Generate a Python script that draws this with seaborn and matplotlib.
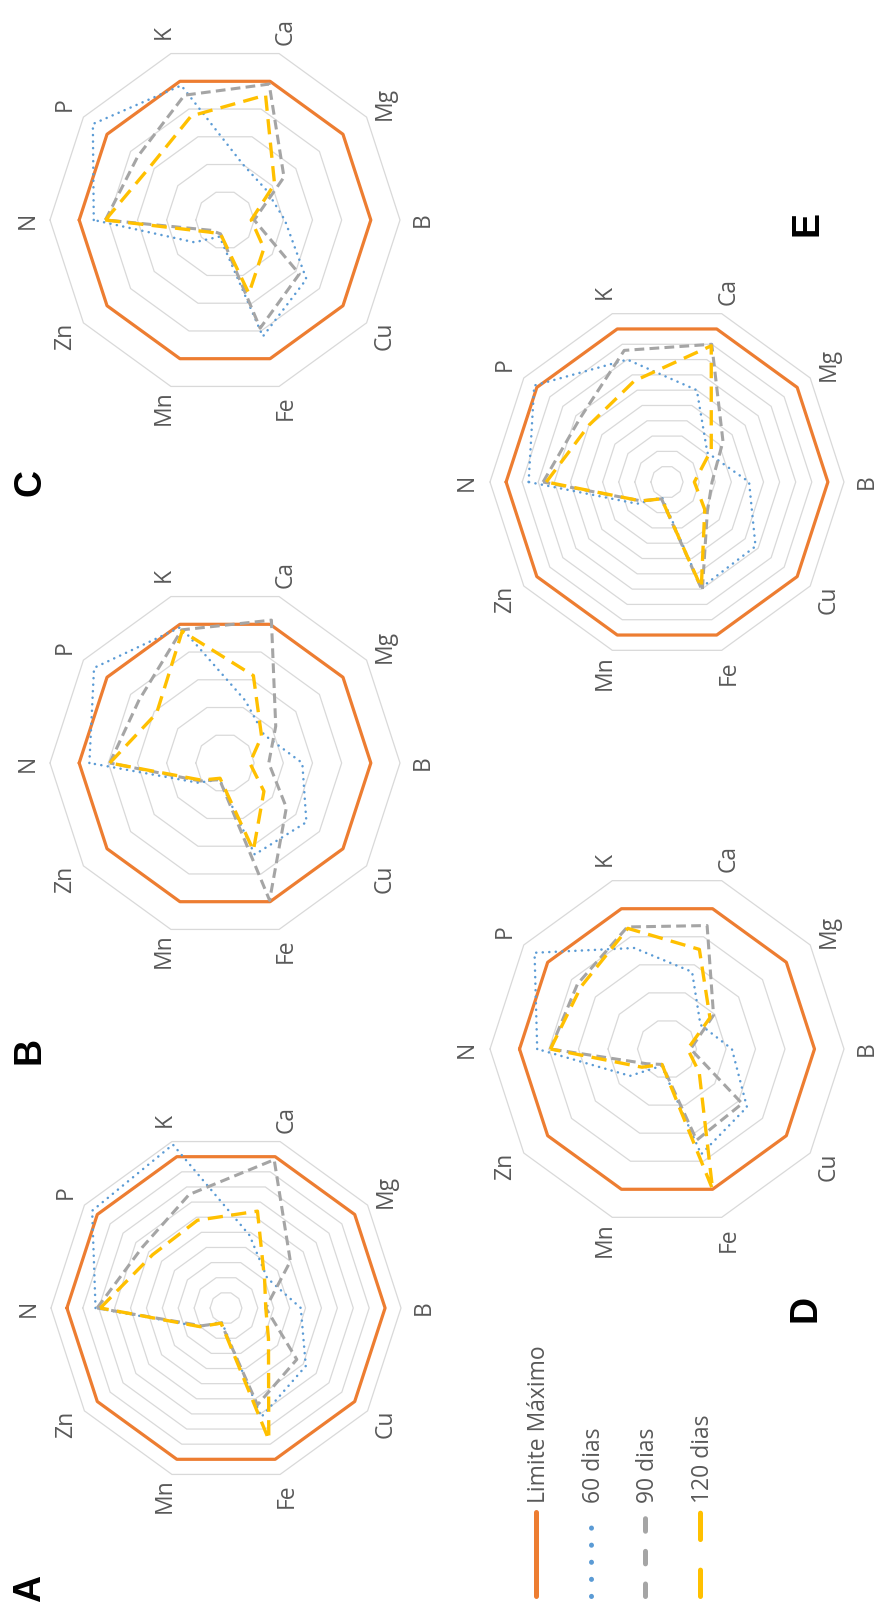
import numpy as np
import matplotlib
matplotlib.use("Agg")
import matplotlib.pyplot as plt
import seaborn as sns

# nutrient axes, clockwise starting at N
nutrientes = ["N", "P", "K", "Ca", "Mg", "B", "Cu", "Fe", "Mn", "Zn"]
series = ["Limite Máximo", "60 dias", "90 dias", "120 dias"]
limite = [100, 100, 100, 100, 100, 100, 100, 100, 100, 100]

# panel A
a_60 = [82, 104, 108, 48, 32, 47, 62, 72, 9, 20]
a_90 = [81, 65, 75, 98, 50, 25, 55, 64, 10, 19]
a_120 = [79, 57, 58, 64, 30, 25, 33, 87, 10, 20]
# panel B
b_60 = [93, 111, 98, 45, 33, 53, 69, 66, 12, 23]
b_90 = [79, 73, 96, 103, 43, 30, 52, 99, 12, 21]
b_120 = [79, 58, 95, 63, 31, 17, 33, 63, 11, 20]
# panel C
c_60 = [90, 112, 97, 40, 35, 41, 69, 84, 12, 26]
c_90 = [82, 74, 90, 98, 50, 20, 63, 78, 10, 12]
c_120 = [82, 63, 75, 90, 42, 18, 33, 53, 10, 14]
# panel D
d_60 = [88, 111, 72, 55, 28, 44, 67, 75, 12, 31]
d_90 = [79, 75, 87, 88, 39, 16, 63, 65, 11, 17]
d_120 = [79, 72, 86, 71, 36, 14, 27, 100, 11, 21]
# panel E
e_60 = [86, 102, 80, 60, 31, 51, 68, 69, 10, 23]
e_90 = [77, 67, 86, 90, 43, 28, 31, 71, 11, 20]
e_120 = [75, 60, 66, 89, 34, 17, 29, 69, 11, 20]

# radial axis max and step of each panel
escala = {"A": (110, 10), "B": (120, 20), "C": (120, 20), "D": (120, 20), "E": (110, 10)}

sns.set_theme(style="white")
plt.rcParams["font.family"] = ["Open Sans", "DejaVu Sans"]
plt.rcParams["lines.scale_dashes"] = False

W, H = 877, 1610
fig = plt.figure(figsize=(W / 100, H / 100), dpi=100)
fig.patch.set_facecolor("white")

estilos = {
    "Limite Máximo": dict(color="#ED7D31", linewidth=2.3, linestyle="-"),
    "60 dias": dict(color="#5B9BD5", linewidth=1.8, linestyle=(0, (0.1, 4.6)), dash_capstyle="round"),
    "90 dias": dict(color="#A5A5A5", linewidth=2.2, linestyle=(0, (7, 3.8))),
    "120 dias": dict(color="#FFC000", linewidth=2.4, linestyle=(0, (11, 6))),
}
TXT = "#595959"


def radar(ax, dados, rmax, step):
    ax.set_theta_offset(np.pi)
    ax.set_theta_direction(-1)
    ang = np.linspace(0, 2 * np.pi, len(nutrientes), endpoint=False)
    fechado = np.append(ang, 2 * np.pi)
    for lvl in np.arange(step, rmax + step / 2, step):
        ax.plot(fechado, [lvl] * len(fechado), color="#D9D9D9", linewidth=0.9,
                zorder=1, clip_on=False)
    for z, (nome, vals) in enumerate(zip(series, dados)):
        r = list(vals) + [vals[0]]
        sns.lineplot(x=fechado, y=r, ax=ax, sort=False, estimator=None,
                     zorder=2 + z, clip_on=False, **estilos[nome])
    ax.set_ylim(0, rmax)
    ax.set_xticks([])
    ax.set_yticks([])
    ax.grid(False)
    ax.spines["polar"].set_visible(False)
    ax.patch.set_visible(False)
    ax.set_xlabel("")
    ax.set_ylabel("")
    for a, lab in zip(ang, nutrientes):
        ax.text(a, rmax * 1.13, lab, rotation=90, ha="center", va="center",
                fontsize=16.5, color=TXT)


paineis = [
    ("A", [limite, a_60, a_90, a_120], (226, 1308), 175, (30, 1588)),
    ("B", [limite, b_60, b_90, b_120], (225, 763), 175, (29, 1050)),
    ("C", [limite, c_60, c_90, c_120], (225, 220), 175, (30, 482)),
    ("D", [limite, d_60, d_90, d_120], (667, 1049), 177, (805, 1308)),
    ("E", [limite, e_60, e_90, e_120], (667, 482), 177, (807, 223)),
]

for letra, dados, (cx, cy), R, (lx, ly) in paineis:
    ax = fig.add_axes([(cx - R) / W, (H - cy - R) / H, 2 * R / W, 2 * R / H],
                      projection="polar")
    rmax, step = escala[letra]
    radar(ax, dados, rmax, step)
    fig.text(lx / W, 1 - ly / H, letra, rotation=90, ha="center", va="center",
             fontsize=27, fontweight="bold", family=["Liberation Sans", "DejaVu Sans"],
             color="black")

# legend, drawn rotated like the rest of the figure
lax = fig.add_axes([0, 0, 1, 1])
lax.set_xlim(0, W)
lax.set_ylim(H, 0)
lax.axis("off")
lax.patch.set_visible(False)
leg_x = [536, 591, 645, 700]
leg_estilos = {
    "Limite Máximo": dict(color="#ED7D31", linewidth=3.6, linestyle="-", solid_capstyle="round"),
    "60 dias": dict(color="#5B9BD5", linewidth=3.6, linestyle=(0, (0.1, 12.2)), dash_capstyle="round"),
    "90 dias": dict(color="#A5A5A5", linewidth=3.6, linestyle=(0, (9, 14.5)), dash_capstyle="round"),
    "120 dias": dict(color="#FFC000", linewidth=3.6, linestyle=(0, (19, 22)), dash_capstyle="round"),
}
for x, nome in zip(leg_x, series):
    lax.plot([x, x], [1596, 1512], **leg_estilos[nome])
    lax.text(x + 3, 1503, nome, rotation=90, ha="center", va="bottom",
             fontsize=16.5, color=TXT)

fig.savefig("out.png", dpi=100, facecolor="white")
